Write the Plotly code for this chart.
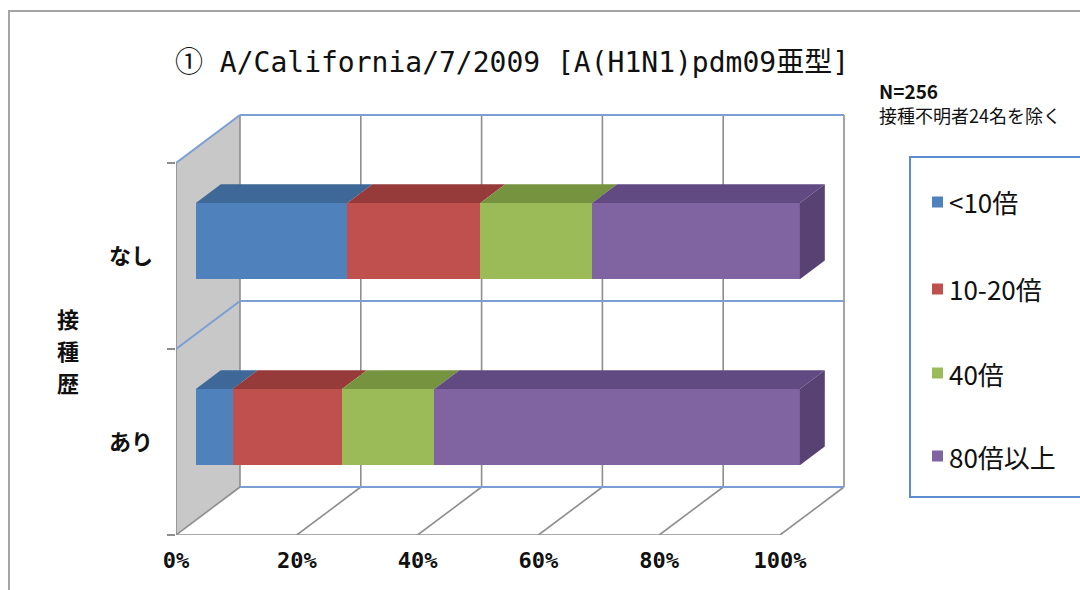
import plotly.graph_objects as go

# ---- data -------------------------------------------------------------
categories = ["あり", "なし"]            # bottom row first
category_pos = [0.5, 1.5]
series_names = ["<10倍", "10-20倍", "40倍", "80倍以上"]
ari_pct = [6.1, 18.1, 15.3, 60.5]
nashi_pct = [25.1, 22.0, 18.5, 34.4]
x_ticks = [0, 20, 40, 60, 80, 100]
x_tick_labels = ["0%", "20%", "40%", "60%", "80%", "100%"]

rows = [ari_pct, nashi_pct]

front_colors = ["#4f81bd", "#c0504d", "#9bbb59", "#8064a2"]
top_colors = ["#3d6898", "#963b39", "#76933f", "#604a81"]
side_color = "#574273"
wall_fill = "#c8c8c8"
grid_gray = "#8e8e8e"
edge_blue = "#7b9fd3"

# ---- pseudo-3D projection ---------------------------------------------
PX_PER_PCT = 6.04      # horizontal pixels per percent
PX_PER_CAT = 186       # vertical pixels per category band
DEPTH_DX = 64          # px shift to the right at full depth
DEPTH_DY = 48          # px shift upwards at full depth
X0_PX = 176            # left edge of the floor (0%)
FLOOR_PX = 535         # front floor line
W, H = 1080, 590

BAR_Z0 = 0.31          # depth of bar front faces
BAR_Z1 = 0.70          # depth of bar back faces
BAR_H = 0.41           # bar thickness in category units


def proj(p, v, z):
    return p + DEPTH_DX * z / PX_PER_PCT, v + DEPTH_DY * z / PX_PER_CAT


def path(points):
    pts = [proj(*pt) for pt in points]
    return "M " + " L ".join(f"{x:.4f},{y:.4f}" for x, y in pts) + " Z"


def line_path(a, b):
    (x0, y0), (x1, y1) = proj(*a), proj(*b)
    return f"M {x0:.4f},{y0:.4f} L {x1:.4f},{y1:.4f}"


shapes = []


def add_line(a, b, color, width=1.6):
    shapes.append(dict(type="path", xref="x", yref="y", path=line_path(a, b),
                       line=dict(color=color, width=width), layer="below"))


# left side wall
shapes.append(dict(type="path", xref="x", yref="y",
                   path=path([(0, 0, 0), (0, 0, 1), (0, 2, 1), (0, 2, 0)]),
                   fillcolor=wall_fill, line=dict(width=0), layer="below"))

# back wall gridlines and floor diagonals
for p in x_ticks:
    add_line((p, 0, 1), (p, 2, 1), grid_gray)
    add_line((p, 0, 0), (p, 0, 1), grid_gray)
add_line((0, 0, 0), (100, 0, 0), grid_gray)
add_line((0, 0, 0), (0, 2, 0), grid_gray)

# category dividers on the back wall and side wall
for v in [0, 1, 2]:
    add_line((0, v, 1), (100, v, 1), edge_blue, 2)
for v in [1, 2]:
    add_line((0, v, 0), (0, v, 1), edge_blue, 2)

fig = go.Figure()

# front faces of the stacked bars
for k, name in enumerate(series_names):
    vals = [row[k] for row in rows]
    starts = [sum(row[:k]) for row in rows]
    ys = [proj(0, c, BAR_Z0)[1] for c in category_pos]
    bases = [proj(s, 0, BAR_Z0)[0] for s in starts]
    fig.add_trace(go.Bar(
        name=name, orientation="h", y=ys, x=vals, base=bases, width=BAR_H,
        marker=dict(color=front_colors[k], line=dict(width=0)),
        showlegend=False, hoverinfo="skip",
    ))

# top faces and right end faces
for row, c in zip(rows, category_pos):
    top = c + BAR_H / 2
    bot = c - BAR_H / 2
    start = 0.0
    for k, val in enumerate(row):
        end = start + val
        pts = [proj(start, top, BAR_Z0), proj(end, top, BAR_Z0),
               proj(end, top, BAR_Z1), proj(start, top, BAR_Z1)]
        fig.add_trace(go.Scatter(
            x=[q[0] for q in pts], y=[q[1] for q in pts], fill="toself",
            fillcolor=top_colors[k], mode="lines", line=dict(width=0),
            showlegend=False, hoverinfo="skip", cliponaxis=False,
        ))
        start = end
    pts = [proj(start, bot, BAR_Z0), proj(start, top, BAR_Z0),
           proj(start, top, BAR_Z1), proj(start, bot, BAR_Z1)]
    fig.add_trace(go.Scatter(
        x=[q[0] for q in pts], y=[q[1] for q in pts], fill="toself",
        fillcolor=side_color, mode="lines", line=dict(width=0),
        showlegend=False, hoverinfo="skip", cliponaxis=False,
    ))

# outer frame
shapes.append(dict(type="rect", xref="paper", yref="paper",
                   x0=9 / W, x1=1.05, y0=-0.05, y1=1 - 11 / H,
                   line=dict(color="#a4a4a4", width=2), layer="below"))

# legend box
LEG_X0, LEG_Y0, LEG_Y1 = 910, 157, 497
shapes.append(dict(type="rect", xref="paper", yref="paper",
                   x0=LEG_X0 / W, x1=1.05, y0=1 - LEG_Y1 / H, y1=1 - LEG_Y0 / H,
                   line=dict(color="#5b8bd0", width=2)))

annotations = []
legend_rows_px = [202, 289, 373, 456]
for k, name in enumerate(series_names):
    yc = legend_rows_px[k]
    shapes.append(dict(type="rect", xref="paper", yref="paper",
                       x0=932 / W, x1=943 / W,
                       y0=1 - (yc + 5.5) / H, y1=1 - (yc - 5.5) / H,
                       fillcolor=front_colors[k], line=dict(width=0)))
    annotations.append(dict(
        text=name, xref="paper", yref="paper", x=947 / W, y=1 - yc / H,
        xanchor="left", yanchor="middle", showarrow=False,
        font=dict(family="Noto Sans CJK JP", size=26, color="#111111"),
    ))

# title and notes
annotations.append(dict(
    text="① A/California/7/2009 [A(H1N1)pdm09亜型]",
    xref="paper", yref="paper", x=512 / W, y=1 - 62 / H,
    xanchor="center", yanchor="middle", showarrow=False,
    font=dict(family="DejaVu Sans Mono, Noto Sans CJK JP", size=28, color="#111111"),
))
annotations.append(dict(
    text="N=256", xref="paper", yref="paper", x=877 / W, y=1 - 90 / H,
    xanchor="left", yanchor="middle", showarrow=False,
    font=dict(family="Noto Sans CJK JP", size=19, color="#111111", weight="bold"),
))
annotations.append(dict(
    text="接種不明者24名を除く", xref="paper", yref="paper", x=877 / W, y=1 - 115 / H,
    xanchor="left", yanchor="middle", showarrow=False,
    font=dict(family="Noto Sans CJK JP", size=18, color="#111111"),
))
for ch, ypx in zip("接種歴", [318, 350, 382]):
    annotations.append(dict(
        text=ch, xref="paper", yref="paper", x=68 / W, y=1 - ypx / H,
        xanchor="center", yanchor="middle", showarrow=False,
        font=dict(family="Noto Sans CJK JP", size=22, color="#111111", weight="bold"),
    ))

fig.update_layout(
    template="none",
    width=W, height=H,
    margin=dict(l=0, r=0, t=0, b=0, pad=0, autoexpand=False),
    paper_bgcolor="white", plot_bgcolor="white",
    barmode="overlay", bargap=0,
    showlegend=False,
    shapes=shapes, annotations=annotations,
    xaxis=dict(
        domain=[X0_PX / W, 1], automargin=False,
        range=[0, (W - X0_PX) / PX_PER_PCT],
        tickmode="array", tickvals=x_ticks, ticktext=x_tick_labels,
        showgrid=False, zeroline=False, showline=False, ticks="",
        ticklabelstandoff=10,
        tickfont=dict(family="DejaVu Sans Mono", size=22, color="#111111", weight="bold"),
        fixedrange=True,
    ),
    yaxis=dict(
        domain=[(H - FLOOR_PX) / H, 1], automargin=False,
        range=[0, FLOOR_PX / PX_PER_CAT],
        tickmode="array", tickvals=category_pos, ticktext=categories,
        showgrid=False, zeroline=False, showline=False, ticks="",
        ticklabelstandoff=22,
        minor=dict(tickmode="array", tickvals=[0, 1, 2], ticks="outside",
                   ticklen=8, tickwidth=1.5, tickcolor=grid_gray, showgrid=False),
        tickfont=dict(family="Noto Sans CJK JP", size=22, color="#111111", weight="bold"),
        fixedrange=True,
    ),
)

fig.write_html("out.html", config={"displayModeBar": False})
